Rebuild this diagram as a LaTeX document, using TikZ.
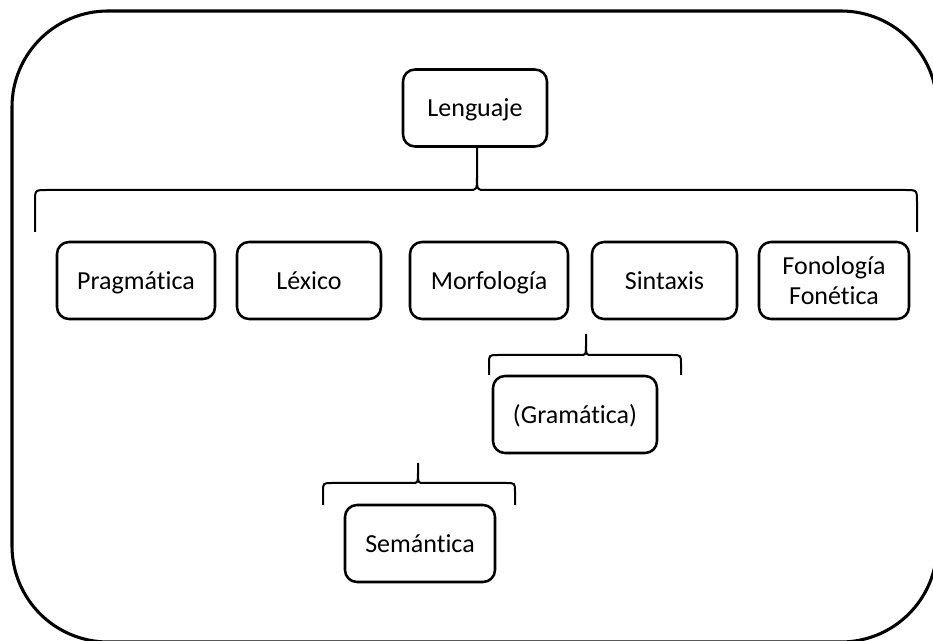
\documentclass[tikz,border=0pt]{standalone}
\usepackage{fontspec}
\setmainfont{Carlito}[Ligatures=NoCommon]
\begin{document}
\begin{tikzpicture}[x=0.75pt,y=-0.75pt,
  box/.style={draw=black, line width=1.9pt, rounded corners=9pt, fill=white,
    minimum height=57.75pt, align=center, inner sep=2pt,
    text height=14pt, text depth=1.2pt,
    font=\fontsize{19.5}{23}\selectfont},
  twoline/.style={text height=, text depth=},
  brace/.style={draw=black, line width=1.5pt},
  frame/.style={draw=black, line width=2.3pt, rounded corners=72pt}]
\useasboundingbox (0,0) rectangle (933,641);

% outer frame, cut off at the right and bottom edges of the page
\begin{scope}
  \clip (0,0) rectangle (933,641);
  \draw[frame] (12,11) rectangle (937,642);
\end{scope}

% nodes
\node[box, minimum width=108pt]   (leng)  at (475,108)   {Lenguaje};
\node[box, minimum width=118.5pt] (prag)  at (136,280.5) {Pragmática};
\node[box, minimum width=108pt]   (lex)   at (309,280.5) {Léxico};
\node[box, minimum width=118.5pt] (morf)  at (489,280.5) {Morfología};
\node[box, minimum width=108.75pt](sint)  at (664.5,280.5) {Sintaxis};
\node[box, twoline, minimum width=112.5pt] (fono) at (834,280.5) {Fonología\\Fonética};
\node[box, minimum width=123pt]   (gram)  at (575,414.5) {(Gramática)};
\node[box, minimum width=112.5pt] (sem)   at (420,543.5) {Semántica};

% brace ends
\coordinate (b1l) at (35,232);  \coordinate (b1r) at (917,232);
\coordinate (b2l) at (489,375); \coordinate (b2r) at (681,375);
\coordinate (b3l) at (323,505); \coordinate (b3r) at (515,505);
\coordinate (t2) at (586,334);
\coordinate (t3) at (418,463);

% brace under Lenguaje
\draw[brace] (b1l) -- (35,202) .. controls (35,190) .. (47,190) -- (469,190)
  .. controls (477,190) .. (477,176) -- (leng.south -| 477,0);
\draw[brace] (b1r) -- (917,202) .. controls (917,190) .. (905,190) -- (485,190)
  .. controls (477,190) .. (477,176);

% brace above Gramática
\draw[brace] (b2l) -- (489,364) .. controls (489,355) .. (498,355) -- (580,355)
  .. controls (586,355) .. (586,345) -- (t2);
\draw[brace] (b2r) -- (681,364) .. controls (681,355) .. (672,355) -- (592,355)
  .. controls (586,355) .. (586,345);

% brace above Semántica
\draw[brace] (b3l) -- (323,492) .. controls (323,483) .. (332,483) -- (412,483)
  .. controls (418,483) .. (418,473) -- (t3);
\draw[brace] (b3r) -- (515,492) .. controls (515,483) .. (506,483) -- (424,483)
  .. controls (418,483) .. (418,473);
\end{tikzpicture}
\end{document}
